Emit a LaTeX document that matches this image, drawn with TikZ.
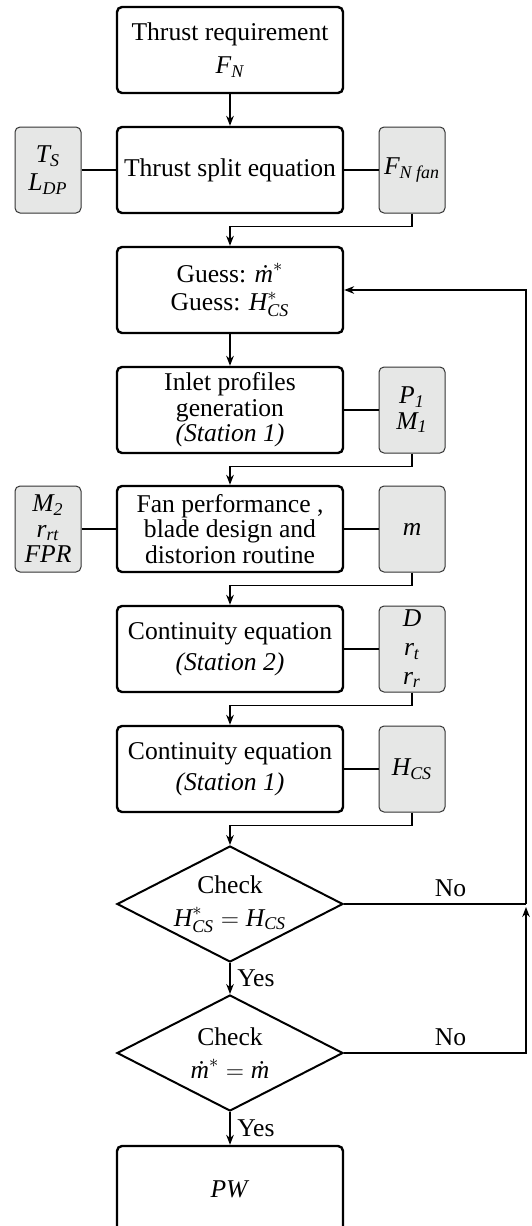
\documentclass[tikz,border=0pt]{standalone}
\usepackage{amsmath}
\usepackage{fontspec}
\setmainfont{Liberation Serif}
\usetikzlibrary{shapes.geometric,arrows.meta}
\definecolor{inputgray}{RGB}{230,231,230}

\begin{document}
\begin{tikzpicture}[x=0.5pt,y=-0.5pt,
  font=\fontsize{12.8}{12.8}\selectfont,
  proc/.style={draw,line width=1.2pt,rounded corners=2.5pt,minimum width=113pt,
    minimum height=43pt,inner sep=2pt,align=center},
  param/.style={draw=black!80,line width=0.5pt,fill=inputgray,rounded corners=2.5pt,
    minimum width=33pt,minimum height=43pt,inner sep=1pt,align=center},
  check/.style={diamond,draw,line width=1pt,aspect=1.95,minimum width=113pt,
    minimum height=58pt,inner sep=0pt,align=center},
  arr/.style={-{Stealth[length=5pt,width=3.8pt]},line width=0.65pt},
  link/.style={line width=0.65pt}]
\useasboundingbox (0,0) rectangle (531,1226);

\node[proc] (req) at (230,50) {Thrust requirement\\[4pt]$\textit{F}_{\textit{N}}$};
\node[proc] (split) at (230,170) {Thrust split equation};
\node[param] (tsld) at (48,170) {$\textit{T}_{\textit{S}}$\\[1.2pt]$\textit{L}_{\textit{DP}}$};
\node[param] (ffan) at (412,170) {$\textit{F}_{\textit{N fan}}$};
\node[proc] (guess) at (230,290) {Guess: $\textit{\.m}^{*}$\\[1.5pt]Guess: $\textit{H}^{*}_{\textit{CS}}$};
\node[proc] (inlet) at (230,410) {Inlet profiles\\generation\\\textit{(Station 1)}};
\node[param] (pm) at (412,410) {$\textit{P}_{\textit{1}}$\\$\textit{M}_{\textit{1}}$};
\node[proc] (fan) at (230,529) {Fan performance ,\\blade design and\\distorion routine};
\node[param] (mrf) at (48,529) {$\textit{M}_{\textit{2}}$\\$\textit{r}_{\textit{rt}}$\\\textit{FPR}};
\node[param] (mm) at (412,529) {\textit{m}};
\node[proc] (cont2) at (230,649) {Continuity equation\\[2.7pt]\textit{(Station 2)}};
\node[param] (drr) at (412,649) {\textit{D}\\[1.5pt]$\textit{r}_{\textit{t}}$\\[1.5pt]$\textit{r}_{\textit{r}}$};
\node[proc] (cont1) at (230,769) {Continuity equation\\[2.7pt]\textit{(Station 1)}};
\node[param] (hcs) at (412,769) {$\textit{H}_{\textit{CS}}$};
\node[check] (chk1) at (230,904) {Check\\[3.7pt]$\textit{H}^{*}_{\textit{CS}}=\textit{H}_{\textit{CS}}$};
\node[check] (chk2) at (230,1053) {Check\\[3.7pt]$\textit{\.m}^{*}=\textit{\.m}$};
\node[proc] (pw) at (230,1189) {\textit{PW}};
\coordinate (back) at (526,904);

\draw[arr] (req) -- (split);
\draw[arr] (guess) -- (inlet);
\foreach \a/\b in {tsld/split,split/ffan,inlet/pm,mrf/fan,fan/mm,cont2/drr,cont1/hcs}
  \draw[link] (\a) -- (\b);
\foreach \a/\b in {ffan/guess,pm/fan,mm/cont2,drr/cont1,hcs/chk1}
  \draw[arr] (\a.south) -- ++(0,13) -| (\b.north);

% yes branch goes down, no branch loops back to the guess
\draw[arr] (chk1) -- node[right] {Yes} (chk2);
\draw[arr] (chk2) -- node[right] {Yes} (pw);
\draw[link] (chk1.east) -- node[above,pos=0.585] {No} (back);
\draw[arr] (back) |- (guess.east);
\draw[arr] (chk2.east) -- node[above,pos=0.585] {No} (chk2.east -| back)
  -- ([yshift=-1.5pt]back);
\end{tikzpicture}
\end{document}
